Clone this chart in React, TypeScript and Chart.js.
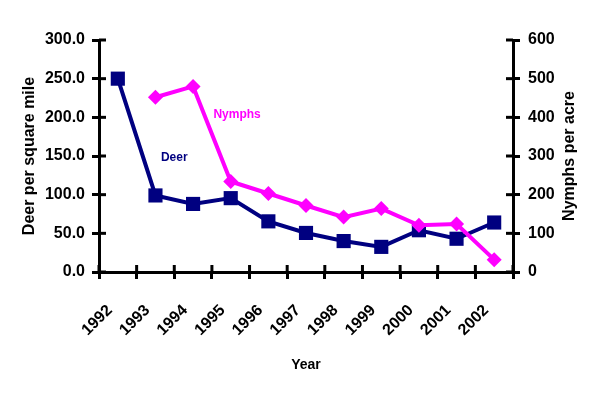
import React, { useEffect, useRef } from "react";
import { Chart, registerables } from "chart.js";

Chart.register(...registerables);

const years = ["1992", "1993", "1994", "1995", "1996", "1997", "1998", "1999", "2000", "2001", "2002"];
const deer = [250, 99, 88, 95.5, 65.5, 50.5, 40, 32.5, 54, 43, 64];
const nymphs = [null, 452, 480, 234, 203, 172, 142, 164, 121, 124, 32];
const deerLabel = { text: "Deer", x: 1.5, y: 148 };
const nymphLabel = { text: "Nymphs", x: 3.17, y: 406 };
const rightTitle = "Nymphs per acre";

const NAVY = "#000080";
const MAGENTA = "#FF00FF";
const FONT = "'Liberation Sans', Arial, Helvetica, sans-serif";
const TL = 7;

const crossTicks = {
  id: "crossTicks",
  beforeDatasetsDraw(chart: any) {
    const ctx = chart.ctx;
    const { left, right, bottom, top } = chart.chartArea;
    ctx.save();
    ctx.strokeStyle = "#000";
    ctx.lineWidth = 3;
    const yl = chart.scales.y;
    yl.ticks.forEach((_t: any, i: number) => {
      const p = yl.getPixelForTick(i);
      ctx.beginPath();
      ctx.moveTo(left, p);
      ctx.lineTo(left + TL, p);
      ctx.stroke();
    });
    const yr = chart.scales.y1;
    yr.ticks.forEach((_t: any, i: number) => {
      const p = yr.getPixelForTick(i);
      ctx.beginPath();
      ctx.moveTo(right - TL, p);
      ctx.lineTo(right, p);
      ctx.stroke();
    });
    const xs = chart.scales.x;
    const n = xs.ticks.length;
    const w = (xs.right - xs.left) / n;
    for (let i = 0; i <= n; i++) {
      const p = xs.left + w * i;
      ctx.beginPath();
      ctx.moveTo(p, bottom - TL);
      ctx.lineTo(p, bottom);
      ctx.stroke();
    }
    // right axis title, reading bottom-to-top
    ctx.translate(570, (top + bottom) / 2);
    ctx.rotate(-Math.PI / 2);
    ctx.font = `bold 16px ${FONT}`;
    ctx.fillStyle = "#000";
    ctx.textAlign = "center";
    ctx.textBaseline = "middle";
    ctx.fillText(rightTitle, 0, 0);
    ctx.restore();
  },
  afterDatasetsDraw(chart: any) {
    const ctx = chart.ctx;
    const xs = chart.scales.x;
    ctx.save();
    ctx.font = `bold 12px ${FONT}`;
    ctx.textAlign = "center";
    ctx.textBaseline = "middle";
    ctx.fillStyle = NAVY;
    ctx.fillText(deerLabel.text, xs.getPixelForValue(deerLabel.x), chart.scales.y.getPixelForValue(deerLabel.y));
    ctx.fillStyle = MAGENTA;
    ctx.fillText(nymphLabel.text, xs.getPixelForValue(nymphLabel.x), chart.scales.y1.getPixelForValue(nymphLabel.y));
    ctx.restore();
  },
};

export default function App() {
  const ref = useRef<HTMLCanvasElement>(null);
  useEffect(() => {
    const chart = new Chart(ref.current as HTMLCanvasElement, {
      type: "line",
      data: {
        labels: years,
        datasets: [
          {
            label: "Deer",
            data: deer,
            yAxisID: "y",
            borderColor: NAVY,
            backgroundColor: NAVY,
            borderWidth: 4,
            pointStyle: "rect",
            pointRadius: 10,
            pointBorderWidth: 0,
            tension: 0,
            order: 1,
          },
          {
            label: "Nymphs",
            data: nymphs,
            yAxisID: "y1",
            borderColor: MAGENTA,
            backgroundColor: MAGENTA,
            borderWidth: 4,
            pointStyle: "rectRot",
            pointRadius: 7.5,
            pointBorderWidth: 0,
            tension: 0,
            order: 0,
          },
        ],
      },
      options: {
        responsive: false,
        animation: false,
        devicePixelRatio: 1,
        layout: { padding: { top: 40, left: 0, right: 0, bottom: 0 } },
        plugins: { legend: { display: false }, tooltip: { enabled: false } },
        scales: {
          x: {
            type: "category",
            offset: true,
            grid: { offset: true, drawOnChartArea: false, color: "#000", lineWidth: 3, tickLength: TL },
            border: { color: "#000", width: 3 },
            ticks: {
              color: "#000",
              font: { family: FONT, size: 16, weight: "bold" },
              minRotation: 45,
              maxRotation: 45,
              autoSkip: false,
              padding: 22,
              labelOffset: -8,
            },
            title: {
              display: true,
              text: "Year",
              color: "#000",
              font: { family: FONT, size: 14, weight: "bold" },
              padding: { top: 0, bottom: 26 },
            },
            afterFit: (s: any) => {
              s.height = 128;
            },
          },
          y: {
            position: "left",
            min: 0,
            max: 300,
            ticks: {
              stepSize: 50,
              color: "#000",
              font: { family: FONT, size: 16, weight: "bold" },
              padding: 7,
              callback: (v: any) => Number(v).toFixed(1),
            },
            grid: { drawOnChartArea: false, color: "#000", lineWidth: 3, tickLength: TL },
            border: { color: "#000", width: 3 },
            title: {
              display: true,
              text: "Deer per square mile",
              color: "#000",
              font: { family: FONT, size: 16, weight: "bold" },
              padding: { top: 20, bottom: 0 },
            },
            afterFit: (s: any) => {
              s.width = 99;
            },
          },
          y1: {
            position: "right",
            min: 0,
            max: 600,
            ticks: {
              stepSize: 100,
              color: "#000",
              font: { family: FONT, size: 16, weight: "bold" },
              padding: 8,
            },
            grid: { drawOnChartArea: false, color: "#000", lineWidth: 3, tickLength: TL },
            border: { color: "#000", width: 3 },
            title: { display: false },
            afterFit: (s: any) => {
              s.width = 87;
            },
          },
        },
      } as any,
      plugins: [crossTicks],
    });
    return () => chart.destroy();
  }, []);
  return (
    <div style={{ position: "absolute", left: 0, top: 0, width: 600, height: 400, background: "#fff" }}>
      <canvas ref={ref} width={600} height={400} style={{ width: 600, height: 400 }} />
    </div>
  );
}
